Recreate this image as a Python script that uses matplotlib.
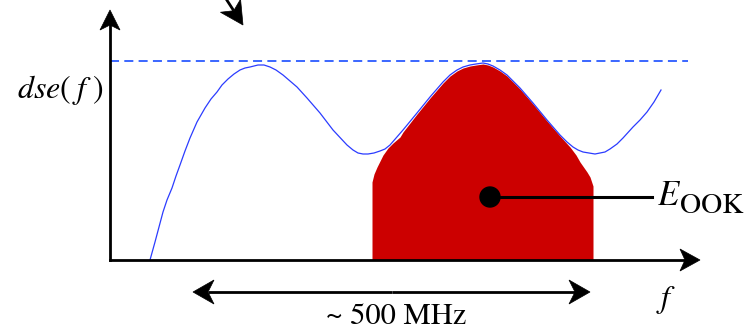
import numpy as np
import matplotlib
matplotlib.use("Agg")
import matplotlib.pyplot as plt
from matplotlib.patches import Polygon, Circle

plt.rcParams["lines.scale_dashes"] = False
SERIF = "STIXGeneral"

# Spectral efficiency curve dse(f) (frequency units along the f axis)
f_curve = [40, 45, 49, 53, 57, 62, 66, 70, 75, 80, 87, 95, 101, 107, 112, 118,
           124, 130, 135, 140, 148, 154, 160, 166, 173, 180, 187, 197, 210, 223,
           237, 243, 248, 253, 258, 264, 270, 275, 280, 293, 307, 320, 333, 340,
           347, 353, 360, 366, 373, 378, 383, 390, 397, 410, 423, 437, 450, 457,
           463, 468, 473, 479, 485, 490, 495, 500, 507, 513, 523, 530, 537, 544,
           551]
dse_curve = [0, 18, 33, 48, 60, 72, 84, 95, 109, 122, 138, 152, 161, 168, 175,
             181, 186, 190, 192, 193, 195, 195, 193, 190, 185, 179, 173, 162, 147,
             130, 115, 110, 107, 106, 106, 107, 109, 111, 115, 130, 147, 163, 178,
             185, 190, 193, 195, 196, 197, 196, 194, 190, 185, 172, 157, 140, 125,
             118, 113, 110, 108, 107, 106, 107, 108, 111, 116, 122, 133, 140, 148,
             158, 170]

# OOK pulse energy spectrum (filled region)
f_pulse = [262, 262, 264, 267, 273, 278, 283, 290, 293, 307, 320, 333, 340, 347,
           353, 360, 366, 373, 378, 383, 390, 397, 410, 423, 437, 450, 460, 466,
           470, 477, 480, 483, 483]
e_pulse = [0, 78, 86, 93, 105, 112, 117, 123, 128, 146, 162, 177, 184, 189,
           192, 194, 195, 196, 195, 193, 189, 184, 171, 156, 139, 124, 113, 105,
           98, 88, 83, 74, 0]

dse_max = 199          # upper bound (dashed level)
centre_f, centre_e = 380, 63   # marker for E_OOK
band_lo, band_hi = 83, 480     # ~500 MHz span

fig = plt.figure(figsize=(7.49, 3.31), dpi=100)
ax = fig.add_axes([0, 0, 1, 1])
ax.set_xlim(-110, 639)
ax.set_ylim(-71, 260)
ax.axis("off")


def stealth(ax, tip, direction, length=20, half_width=10, notch=5, color="black"):
    d = np.asarray(direction, float)
    d /= np.hypot(*d)
    p = np.array([-d[1], d[0]])
    t = np.asarray(tip, float)
    pts = [t, t - length * d + half_width * p, t - (length - notch) * d,
           t - length * d - half_width * p]
    ax.add_patch(Polygon(pts, closed=True, facecolor=color, edgecolor=color,
                         lw=0.5, zorder=6))
    return t - (length - notch) * d


def arrow(ax, start, tip, lw=2.0, **kw):
    start = np.asarray(start, float)
    tip = np.asarray(tip, float)
    back = stealth(ax, tip, tip - start, **kw)
    ax.plot([start[0], back[0]], [start[1], back[1]], color="black", lw=lw,
            solid_capstyle="butt", zorder=5)


# red pulse spectrum
ax.fill_between(f_pulse, 0, e_pulse, color="#cc0000", lw=0, zorder=2)

# dse(f) curve and its upper level
ax.plot(f_curve, dse_curve, color="#2b3cff", lw=0.9, zorder=3)
ax.plot([0, 578], [dse_max, dse_max], color="#3a66ff", lw=1.4,
        dashes=(6.5, 3.8), zorder=3)

# axes
ax.plot([0, 0], [0, 240], color="black", lw=2.0, solid_capstyle="projecting", zorder=5)
stealth(ax, (0, 250), (0, 1), length=20, half_width=10, notch=5)
ax.plot([0, 575], [0, 0], color="black", lw=2.0, solid_capstyle="projecting", zorder=5)
stealth(ax, (590, 0), (1, 0), length=20, half_width=11, notch=5)

# bandwidth arrow
arrow(ax, ((band_lo + band_hi) / 2, -32), (band_lo, -32), lw=2.0,
      length=21, half_width=12, notch=6)
arrow(ax, ((band_lo + band_hi) / 2, -32), (band_hi, -32), lw=2.0,
      length=21, half_width=12, notch=6)

# pointer arrow at the top
arrow(ax, (109, 272), (133, 235), lw=2.0, length=23, half_width=12, notch=6)

# E_OOK marker
ax.add_patch(Circle((centre_f, centre_e), 10, color="black", zorder=7))
ax.plot([centre_f, 542], [centre_e, centre_e], color="black", lw=2.2, zorder=6)
ax.text(547, 55, "E", fontsize=25, fontfamily=SERIF, fontstyle="italic",
        ha="left", va="baseline")
ax.text(570, 47, "OOK", fontsize=21, fontfamily=SERIF, ha="left", va="baseline")

# labels
ax.text(-7, 162, r"$dse(\;f\;)$", fontsize=23, ha="right", va="baseline",
        math_fontfamily="stix")
ax.text(556, -47, r"$f$", fontsize=23, ha="center", va="baseline",
        math_fontfamily="stix")
ax.text(286, -64, "~ 500 MHz", fontsize=22, fontfamily=SERIF, ha="center",
        va="baseline")

fig.savefig("out.png", dpi=100)
